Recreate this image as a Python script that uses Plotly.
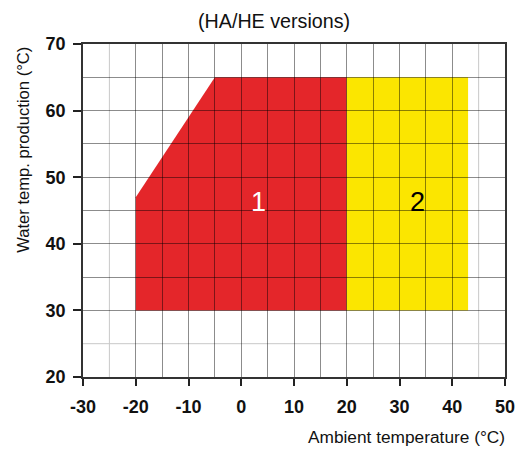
import plotly.graph_objects as go

# ---- data ----
zone1_x = [-20, -20, -5, 20, 20]
zone1_y = [30, 47, 65, 65, 30]
zone2_x = [20, 20, 43, 43]
zone2_y = [30, 65, 65, 30]
zone_labels = ["1", "2"]
label_x = [3.3, 33.5]
label_y = [46.3, 46.3]
label_colors = ["white", "black"]
x_ticks = [-30, -20, -10, 0, 10, 20, 30, 40, 50]
y_ticks = [20, 30, 40, 50, 60, 70]
x_minor = [-15, -5, 5, 15, 25, 35]
y_minor = [35, 45, 55, 65]
light_grid_x = [-25, 45]
light_grid_y = [25]

RED = "#e4262a"
YELLOW = "#fbe600"
GRID = "rgba(0,0,0,0.45)"
LIGHT = "#c8c8c8"
FONT = "Liberation Sans"


def poly_path(xs, ys):
    pts = [f"{x},{y}" for x, y in zip(xs, ys)]
    return "M " + " L ".join(pts) + " Z"


fig = go.Figure()
# invisible trace so the subplot exists
fig.add_trace(go.Scatter(x=zone1_x + zone2_x, y=zone1_y + zone2_y, mode="markers",
                         marker=dict(opacity=0), hoverinfo="skip", showlegend=False))

shapes = [
    dict(type="path", path=poly_path(zone1_x, zone1_y), xref="x", yref="y",
         fillcolor=RED, line=dict(width=0), layer="below"),
    dict(type="path", path=poly_path(zone2_x, zone2_y), xref="x", yref="y",
         fillcolor=YELLOW, line=dict(width=0), layer="below"),
]
for gx in light_grid_x:
    shapes.append(dict(type="line", xref="x", yref="paper", x0=gx, x1=gx, y0=0, y1=1,
                       line=dict(color=LIGHT, width=1), layer="between"))
for gy in light_grid_y:
    shapes.append(dict(type="line", xref="paper", yref="y", x0=0, x1=1, y0=gy, y1=gy,
                       line=dict(color=LIGHT, width=1), layer="between"))

annotations = []
for t, x, y, c in zip(zone_labels, label_x, label_y, label_colors):
    annotations.append(dict(text=t, x=x, y=y, xref="x", yref="y", showarrow=False,
                            font=dict(family=FONT, size=27, color=c)))

annotations += [
    dict(text="(HA/HE versions)", x=0.452, y=1.069, xref="paper", yref="paper",
         showarrow=False, xanchor="center", yanchor="middle",
         font=dict(family=FONT, size=19.7, color="#111")),
    dict(text="Ambient temperature (°C)", x=1.005, y=-0.18, xref="paper", yref="paper",
         showarrow=False, xanchor="right", yanchor="middle",
         font=dict(family=FONT, size=17.3, color="#111")),
    dict(text="Water temp. production (°C)", x=-0.14, y=0.682, xref="paper", yref="paper",
         showarrow=False, xanchor="center", yanchor="middle", textangle=-90,
         font=dict(family=FONT, size=16.6, color="#111")),
]

# page body adds an 8px margin; size the figure so it fits the 527x452 window
fig.update_layout(
    width=519, height=444,
    margin=dict(l=75, r=19, t=36, b=75),
    paper_bgcolor="white", plot_bgcolor="white",
    showlegend=False,
    shapes=shapes,
    annotations=annotations,
    xaxis=dict(range=[-30, 50], tickmode="array", tickvals=x_ticks,
               ticktext=[f"<b>{v}</b>" for v in x_ticks],
               showgrid=True, gridcolor=GRID, gridwidth=1,
               minor=dict(tickmode="array", tickvals=x_minor, showgrid=True,
                          gridcolor=GRID, gridwidth=1, ticklen=0),
               ticks="outside", ticklen=7, tickcolor="#222", tickwidth=1.5,
               showline=True, linecolor="#333", linewidth=1.5, mirror=True,
               zeroline=False, ticklabelstandoff=6,
               tickfont=dict(family=FONT, size=18, color="#111")),
    yaxis=dict(range=[20, 70], tickmode="array", tickvals=y_ticks,
               ticktext=[f"<b>{v}</b>" for v in y_ticks],
               showgrid=True, gridcolor=GRID, gridwidth=1,
               minor=dict(tickmode="array", tickvals=y_minor, showgrid=True,
                          gridcolor=GRID, gridwidth=1, ticklen=0),
               ticks="outside", ticklen=8, tickcolor="#222", tickwidth=1.5,
               showline=True, linecolor="#333", linewidth=1.5, mirror=True,
               zeroline=False, ticklabelstandoff=4,
               tickfont=dict(family=FONT, size=18, color="#111")),
)

fig.write_html("out.html")
